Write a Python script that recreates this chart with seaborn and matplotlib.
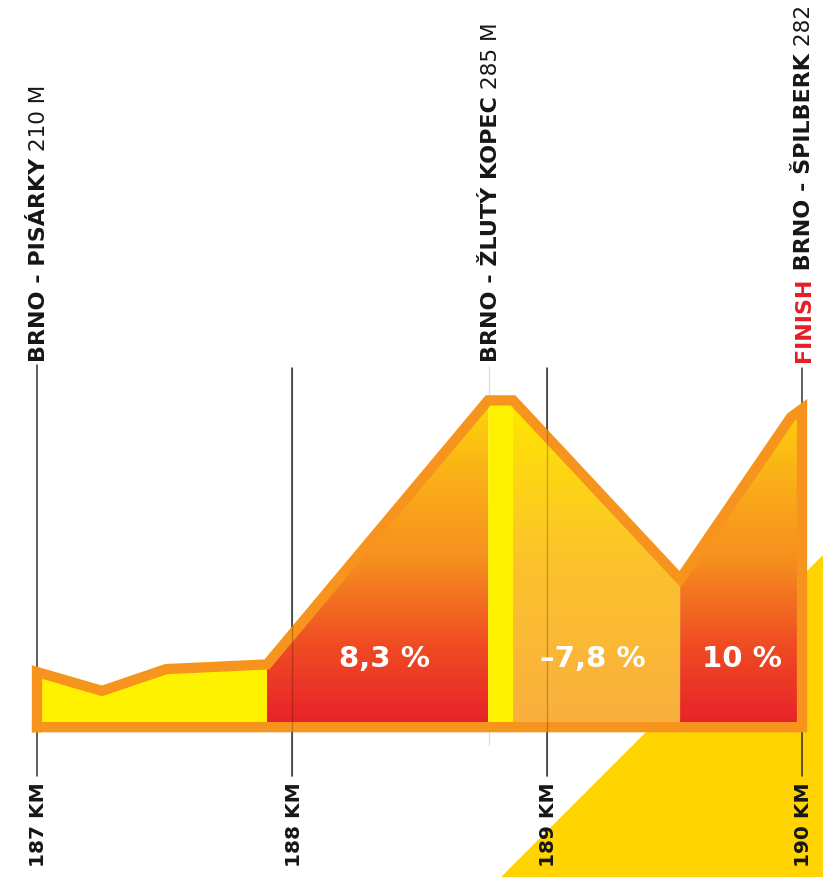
import numpy as np
import matplotlib
matplotlib.use("Agg")
import matplotlib.pyplot as plt
import matplotlib.transforms as mtrans
from matplotlib.colors import LinearSegmentedColormap
from matplotlib.patches import Polygon
import seaborn as sns

# ---------------- data ----------------
km = [187.000, 187.255, 187.506, 187.902, 188.769, 188.867, 189.522, 189.957, 190.000]
elev = [210.0, 204.8, 210.8, 212.1, 284.9, 284.9, 235.6, 280.3, 282.5]
base_elev = 194.8
segment_bounds = [187.000, 187.902, 188.769, 188.867, 189.522, 190.000]
segment_styles = ["flat", "warm", "flat", "light", "warm"]
grade_labels = ["8,3 %", "–7,8 %", "10 %"]
grade_label_km = [188.361, 189.180, 189.765]
tick_km = [187, 188, 189, 190]
tick_labels = ["187 KM", "188 KM", "189 KM", "190 KM"]
place_km = [187.000, 188.771, 190.000]
place_parts = [
    [("BRNO - PISÁRKY", "bold", "#161616"), (" 210 M", "normal", "#161616")],
    [("BRNO - ŽLUTÝ KOPEC", "bold", "#161616"), (" 285 M", "normal", "#161616")],
    [("FINISH", "bold", "#E41E26"), (" BRNO - ŠPILBERK", "bold", "#161616"), (" 282", "normal", "#161616")],
]

# ---------------- figure ----------------
sns.set_theme(style="white")
plt.rcParams["font.family"] = ["DejaVu Sans"]
W, H = 823, 877
fig = plt.figure(figsize=(W / 100, H / 100), dpi=100)
ax = fig.add_axes([0, 0, 1, 1])
ax.set_facecolor("white")
px_per_km = 255.0
px_per_m = 3.627
x0 = 187 - 37 / px_per_km
x1 = 187 + (W - 37) / px_per_km
y1 = 285 + 400 / px_per_m
y0 = 285 - (H - 400) / px_per_m
trans = mtrans.blended_transform_factory(ax.transData, ax.transAxes)

def fy(py):
    return 1 - py / H

# decorative yellow triangle bottom-right
ax.fill([501 / W, 1, 1], [0, 0, fy(555)], color="#FFD400", transform=ax.transAxes, zorder=0, lw=0)

# vertical km lines
for k in tick_km:
    top = 365 if k == 187 else 368
    ax.plot([k, k], [fy(top), fy(776)], color="#333333", lw=1.1, transform=trans, zorder=1)
ax.plot([place_km[1]] * 2, [fy(366), fy(745)], color="#dcdcdc", lw=0.9, transform=trans, zorder=1)

warm = LinearSegmentedColormap.from_list(
    "warm", [(0, "#E8202A"), (0.25, "#EF4C23"), (0.5, "#F68D1F"), (0.75, "#FAAE18"), (1, "#FDD60A")])
light = LinearSegmentedColormap.from_list(
    "light", [(0, "#F9AF3F"), (0.5, "#FCC22C"), (1, "#FFE600")])
cmaps = {"warm": warm, "light": light}
grad = np.linspace(0, 1, 256).reshape(-1, 1)

for (a, b), style in zip(zip(segment_bounds[:-1], segment_bounds[1:]), segment_styles):
    verts = [(a, base_elev)] + [(k, e) for k, e in zip(km, elev) if a - 1e-9 <= k <= b + 1e-9] + [(b, base_elev)]
    if style == "flat":
        poly = Polygon(verts, closed=True, facecolor="#FFF200", edgecolor="#FFF200", lw=0.5, zorder=2)
        ax.add_patch(poly)
    else:
        poly = Polygon(verts, closed=True, facecolor="none", edgecolor="none", transform=ax.transData)
        ax.add_patch(poly)
        im = ax.imshow(grad, extent=[a, b, base_elev, 285], origin="lower", aspect="auto",
                       cmap=cmaps[style], zorder=2, interpolation="bilinear")
        im.set_clip_path(poly)

# faint lines over the fill
for k in tick_km[1:3]:
    ax.plot([k, k], [fy(368), fy(776)], color="black", lw=1.0, alpha=0.22, transform=trans, zorder=5)

# profile outline
out_x = [km[0]] + km + [km[-1], km[0]]
out_y = [base_elev] + elev + [base_elev, base_elev]
sns.lineplot(x=out_x, y=out_y, sort=False, estimator=None, color="#F7941D", lw=7.4, ax=ax,
             solid_joinstyle="miter", solid_capstyle="projecting", zorder=4)

# grade labels
for lab, k in zip(grade_labels, grade_label_km):
    ax.text(k, fy(667), lab, transform=trans, color="white", fontsize=21, fontweight="bold",
            ha="center", va="baseline", zorder=6)

# bottom km labels
for k, lab in zip(tick_km, tick_labels):
    ax.text(k + 2 / px_per_km, fy(782), lab, transform=trans, rotation=90, ha="center", va="top",
            fontsize=14.5, fontweight="bold", color="#161616", zorder=6)

ax.set_xlim(x0, x1)
ax.set_ylim(y0, y1)
ax.axis("off")

# top place labels (multi-style, stacked along the rotated baseline)
fig.canvas.draw()
renderer = fig.canvas.get_renderer()
for k, parts in zip(place_km, place_parts):
    ycur = fy(362)
    for txt, wt, col in parts:
        t = ax.text(k + 2 / px_per_km, ycur, txt, transform=trans, rotation=90, ha="center", va="bottom",
                    fontsize=16 if wt == "bold" else 15.5, fontweight=wt, color=col, zorder=6)
        bb = t.get_window_extent(renderer)
        ycur = ax.transAxes.inverted().transform((0, bb.y1))[1]

fig.savefig("out.png", dpi=100, facecolor="white")
